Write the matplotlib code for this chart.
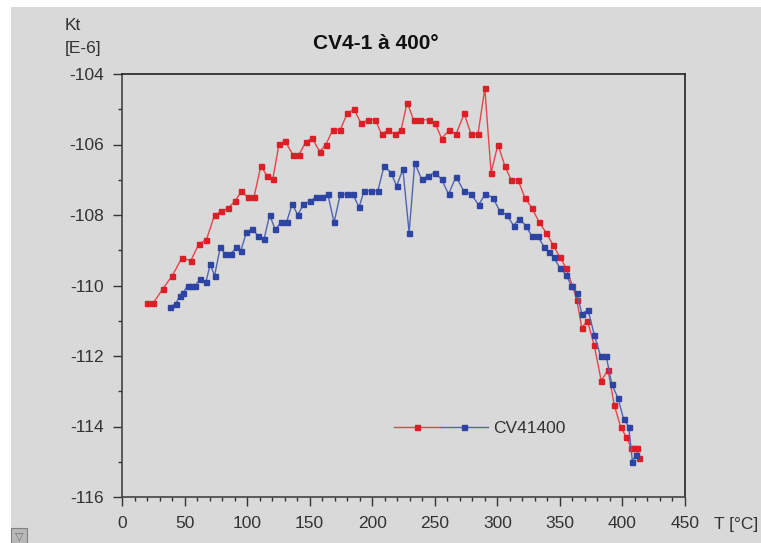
import matplotlib
matplotlib.use('Agg')
from matplotlib import pyplot as plt
from matplotlib.patches import Rectangle
from matplotlib.legend_handler import HandlerTuple
from matplotlib.ticker import MultipleLocator

plt.rcParams['font.family'] = ['Liberation Sans', 'DejaVu Sans']

# red series  (T in degC, Kt in E-6)
t_red = [20, 25, 32.5, 40, 48, 55, 61.5, 67.5, 74, 79.5,
         85, 90.5, 95.5, 100.5, 105.5, 111, 116, 120.5, 125.5, 130.5,
         136.5, 141.5, 147, 152, 158, 163, 168.5, 174.5, 180, 185.5,
         191, 197, 202.5, 207.5, 212.5, 218, 223, 228, 233, 238.5,
         245, 250, 255.5, 261.5, 267, 273.5, 279, 284.5, 290, 295,
         300.5, 306, 311, 316.5, 322, 327.5, 333.5, 339,
         344.5, 350, 355, 360, 363.5, 367.5, 372, 377.5, 383, 388.5,
         393.5, 398.5, 403, 407, 409.5, 411.5, 413.5]
kt_red = [-110.5, -110.5, -110.1, -109.73, -109.21, -109.3, -108.82, -108.7, -108.0, -107.9,
          -107.8, -107.6, -107.32, -107.5, -107.5, -106.6, -106.9, -106.99, -105.99, -105.91,
          -106.29, -106.29, -105.92, -105.82, -106.2, -106.0, -105.58, -105.58, -105.12, -105.0,
          -105.4, -105.3, -105.3, -105.71, -105.59, -105.71, -105.59, -104.81, -105.3, -105.3,
          -105.3, -105.38, -105.83, -105.59, -105.71, -105.12, -105.71, -105.71, -104.41, -106.8,
          -106.0, -106.61, -107.0, -107.0, -107.51, -107.79, -108.21, -108.5,
          -108.85, -109.2, -109.5, -110.0, -110.4, -111.2, -111.0, -111.7, -112.7, -112.4,
          -113.4, -114.0, -114.3, -114.6, -114.6, -114.6, -114.9]

# blue series
t_blue = [38, 43, 46, 49, 52.5, 55.5, 58.5, 62.5, 67, 70.5,
          74, 78.5, 82.5, 87, 91.5, 95, 99.5, 104, 109, 113.5,
          118, 122.5, 127, 131.5, 136, 140.5, 145, 150.5, 155, 159.5,
          164.5, 169.5, 174.5, 179.5, 184.5, 189.5, 193.5, 199, 204.5, 209.5,
          215, 219.5, 224.5, 229.5, 234, 239.5, 244.5, 250, 255.5, 261,
          267, 273, 279, 285, 290.5, 296.5, 302, 307.5, 313, 317.5,
          323, 327.5, 332.5, 337.5, 341,
          345, 350, 355, 359, 363.5, 367.5, 372.5, 377.5, 382.5, 387,
          391.5, 396.5, 401, 405, 408, 410.5]
kt_blue = [-110.61, -110.52, -110.3, -110.2, -110.0, -110.0, -110.0, -109.82, -109.91, -109.4,
           -109.72, -108.92, -109.1, -109.1, -108.92, -109.01, -108.49, -108.4, -108.6, -108.69,
           -108.0, -108.41, -108.21, -108.21, -107.69, -108.0, -107.7, -107.6, -107.5, -107.5,
           -107.41, -108.21, -107.41, -107.41, -107.41, -107.78, -107.31, -107.31, -107.31, -106.61,
           -106.8, -107.18, -106.7, -108.5, -106.52, -106.99, -106.89, -106.8, -106.99, -107.41,
           -106.91, -107.31, -107.41, -107.71, -107.4, -107.51, -107.89, -108.0, -108.3, -108.11,
           -108.31, -108.6, -108.6, -108.92, -109.04,
           -109.2, -109.5, -109.7, -110.0, -110.2, -110.8, -110.7, -111.4, -112.0, -112.0,
           -112.8, -113.2, -113.8, -114.0, -115.0, -114.8]

series_label = 'CV41400'
title = 'CV4-1 à 400°'

W, H = 761, 543
bg = '#d9d9d9'
fig = plt.figure(figsize=(W / 100, H / 100), dpi=100, facecolor='white')
# grey panel (white strip top and left)
fig.patches.append(Rectangle((11 / W, 0), 1 - 11 / W, 1 - 7 / H, transform=fig.transFigure,
                             facecolor=bg, edgecolor='none', zorder=-5))
# small button bottom-left
fig.patches.append(Rectangle((11 / W, 0), 16 / W, 15 / H, transform=fig.transFigure,
                             facecolor='#b8b8b8', edgecolor='#808080', lw=0.8, zorder=-4))
fig.text(19 / W, 7 / H, '▽', ha='center', va='center', fontsize=8, color='#707070',
         family='DejaVu Sans')

ax = fig.add_axes([122 / W, 46 / H, 563 / W, 423 / H])
ax.set_facecolor(bg)

red_line, = ax.plot(t_red, kt_red, '-s', color='#e8444b', lw=1.0, markersize=3.6,
                    markerfacecolor='#dc1f27', markeredgecolor='#dc1f27', zorder=3)
blue_line, = ax.plot(t_blue, kt_blue, '-s', color='#5064b4', lw=1.0, markersize=3.6,
                     markerfacecolor='#2d44a3', markeredgecolor='#2d44a3', zorder=3)

ax.set_xlim(0, 450)
ax.set_ylim(-116, -104)
ax.xaxis.set_major_locator(MultipleLocator(50))
ax.xaxis.set_minor_locator(MultipleLocator(10))
ax.yaxis.set_major_locator(MultipleLocator(2))
ax.yaxis.set_minor_locator(MultipleLocator(1))
ax.tick_params(which='major', direction='out', length=6.3, width=1.0, color='#333333',
               labelsize=12.5, labelcolor='#333333', pad=6.5)
ax.tick_params(which='minor', direction='out', length=2.7, width=1.0, color='#333333')
ax.tick_params(axis='x', which='major', pad=7.5)
ax.yaxis.set_major_formatter(matplotlib.ticker.FuncFormatter(lambda v, p: '-%d' % abs(v)))

for s in ax.spines.values():
    s.set_color('#222222')
    s.set_linewidth(1.2)
ax.spines['left'].set_color('#444444')
ax.spines['bottom'].set_color('#444444')

leg = ax.legend([(red_line, blue_line)], [series_label],
                handler_map={tuple: HandlerTuple(ndivide=None, pad=0)},
                loc='center left', bbox_to_anchor=(0.483, 0.161), frameon=False,
                borderpad=0, borderaxespad=0, handlelength=5.4, handletextpad=0.3,
                numpoints=1, fontsize=12.5)
for t in leg.get_texts():
    t.set_color('#333333')

fig.text(376 / W, 1 - 49 / H, title, ha='center', va='baseline', fontsize=15,
         fontweight='bold', color='#111111')
fig.text(65 / W, 1 - 30 / H, 'Kt', ha='left', va='baseline', fontsize=12.5, color='#333333')
fig.text(65 / W, 1 - 53 / H, '[E-6]', ha='left', va='baseline', fontsize=12.5, color='#333333')
fig.text(714 / W, 1 - 529 / H, 'T [°C]', ha='left', va='baseline', fontsize=12.5, color='#333333')

fig.savefig('out.png', dpi=100, facecolor=fig.get_facecolor())
